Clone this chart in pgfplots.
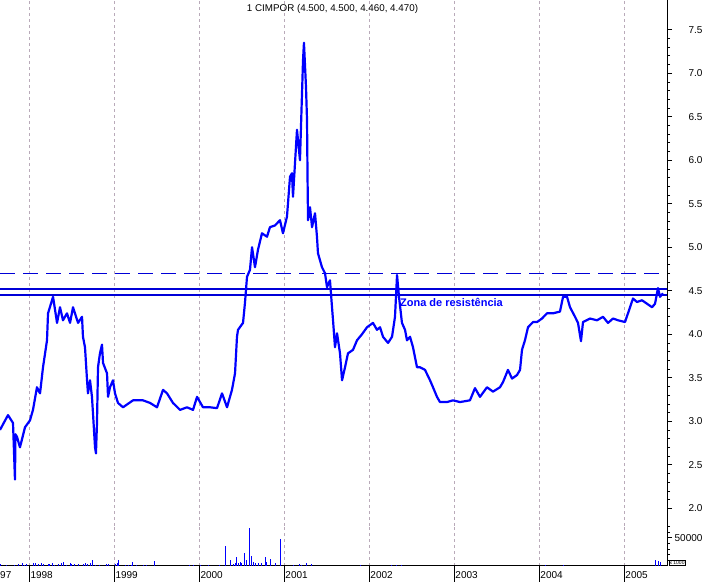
\documentclass[border=0pt]{standalone}
\usepackage{fontspec}
\setmainfont{Liberation Sans}
\usepackage{pgfplots}
\pgfplotsset{compat=1.18}
\definecolor{pblue}{RGB}{0,0,255}
\definecolor{lblue}{RGB}{0,0,215}
\definecolor{gridc}{RGB}{185,170,185}

\begin{document}
\begin{tikzpicture}[x=1pt,y=1pt]
\path[use as bounding box] (0pt,0pt) rectangle (707pt,-582pt);
\begin{axis}[
  at={(0pt,0pt)}, anchor=north west,
  scale only axis, width=667pt, height=525.6pt,
  xmin=1997.655, xmax=2005.502, ymin=1.8, ymax=7.841,
  axis y line*=right, axis x line*=bottom, x axis line style={draw=none},
  y axis line style={black, line width=0.7pt},
  xtick={1998,...,2005}, xticklabels={}, xtick style={draw=none},
  xmajorgrids, grid style={gridc, dashed, line width=0.6pt},
  ytick={2,2.5,...,7.5}, minor y tick num=4,
  tick align=outside, major tick length=5pt, minor tick length=3pt,
  ytick style={black, line width=0.6pt},
  yticklabel style={font=\fontsize{10}{12}\selectfont, anchor=east, xshift=34pt,
    /pgf/number format/fixed, /pgf/number format/fixed zerofill, /pgf/number format/precision=1},
  /pgf/number format/assume math mode=true,
  clip mode=individual,
]
% resistance lines
\addplot[lblue, line width=1.2pt, dash pattern=on 15pt off 8pt] coordinates {(1997.655,4.70) (2005.502,4.70)};
\addplot[lblue, line width=1.1pt] coordinates {(1997.655,4.52) (2005.502,4.52)};
\addplot[lblue, line width=1.1pt] coordinates {(1997.655,4.45) (2005.502,4.45)};
% price
\addplot[pblue, line width=2.2pt, line join=round] coordinates {
(1997.655,2.90) (1997.749,3.07) (1997.808,2.98) (1997.831,2.33) (1997.837,2.85)
(1997.855,2.82) (1997.890,2.70) (1997.949,2.93) (1998.008,3.01) (1998.043,3.13)
(1998.090,3.39) (1998.126,3.32) (1998.161,3.62) (1998.208,3.93) (1998.220,4.24)
(1998.267,4.39) (1998.279,4.43) (1998.326,4.13) (1998.361,4.31) (1998.396,4.16)
(1998.443,4.24) (1998.479,4.13) (1998.514,4.31) (1998.573,4.13) (1998.620,4.20)
(1998.631,3.97) (1998.655,3.85) (1998.679,3.47) (1998.690,3.32) (1998.714,3.47)
(1998.737,3.28) (1998.749,3.09) (1998.773,2.70) (1998.784,2.63) (1998.796,2.98)
(1998.808,3.62) (1998.831,3.78) (1998.855,3.88) (1998.867,3.67) (1998.914,3.55)
(1998.926,3.28) (1998.949,3.39) (1998.984,3.47) (1999.008,3.32) (1999.043,3.21)
(1999.102,3.16) (1999.220,3.24) (1999.337,3.24) (1999.420,3.21) (1999.502,3.16)
(1999.573,3.36) (1999.620,3.32) (1999.690,3.21) (1999.773,3.13) (1999.855,3.16)
(1999.926,3.13) (1999.973,3.28) (2000.043,3.16) (2000.126,3.16) (2000.208,3.15)
(2000.267,3.32) (2000.326,3.16) (2000.384,3.36) (2000.420,3.55) (2000.443,3.97)
(2000.455,4.05) (2000.514,4.13) (2000.537,4.36) (2000.561,4.66) (2000.596,4.74)
(2000.620,5.00) (2000.655,4.77) (2000.690,4.97) (2000.737,5.16) (2000.796,5.12)
(2000.831,5.23) (2000.890,5.25) (2000.949,5.31) (2000.984,5.16) (2001.031,5.35)
(2001.067,5.81) (2001.090,5.85) (2001.102,5.58) (2001.149,6.35) (2001.184,6.00)
(2001.220,7.15) (2001.231,7.35) (2001.255,6.84) (2001.267,6.46) (2001.273,5.81)
(2001.279,5.31) (2001.302,5.46) (2001.326,5.23) (2001.361,5.39) (2001.384,5.12)
(2001.396,4.93) (2001.443,4.77) (2001.479,4.70) (2001.502,4.54) (2001.537,4.62)
(2001.561,4.31) (2001.573,4.16) (2001.596,3.85) (2001.620,4.01) (2001.655,3.78)
(2001.679,3.47) (2001.714,3.62) (2001.749,3.78) (2001.808,3.82) (2001.855,3.93)
(2001.914,4.00) (2001.973,4.08) (2002.043,4.13) (2002.090,4.05) (2002.126,4.08)
(2002.161,3.97) (2002.220,3.90) (2002.267,3.97) (2002.302,4.20) (2002.326,4.68)
(2002.349,4.43) (2002.384,4.13) (2002.420,4.05) (2002.443,3.93) (2002.479,3.97)
(2002.514,3.85) (2002.561,3.62) (2002.596,3.62) (2002.655,3.59) (2002.714,3.47)
(2002.749,3.39) (2002.796,3.28) (2002.831,3.22) (2002.914,3.22) (2002.984,3.24)
(2003.067,3.22) (2003.184,3.24) (2003.243,3.38) (2003.302,3.28) (2003.384,3.39)
(2003.455,3.34) (2003.537,3.39) (2003.573,3.45) (2003.631,3.59) (2003.679,3.49)
(2003.737,3.53) (2003.773,3.59) (2003.796,3.82) (2003.831,3.93) (2003.867,4.08)
(2003.926,4.14) (2003.973,4.14) (2004.031,4.18) (2004.090,4.24) (2004.161,4.24)
(2004.243,4.26) (2004.279,4.43) (2004.326,4.43) (2004.361,4.31) (2004.420,4.20)
(2004.455,4.13) (2004.490,3.92) (2004.514,4.14) (2004.596,4.18) (2004.679,4.16)
(2004.749,4.20) (2004.808,4.13) (2004.867,4.18) (2004.926,4.16) (2005.008,4.14)
(2005.043,4.24) (2005.102,4.41) (2005.149,4.37) (2005.208,4.39) (2005.267,4.35)
(2005.326,4.31) (2005.361,4.35) (2005.396,4.53) (2005.420,4.43) (2005.455,4.47)
};
\node[font=\fontsize{9.8}{11}\selectfont, anchor=north, inner sep=0pt] at (rel axis cs:0.4985,1) [yshift=-4pt] {1 CIMPOR (4.500, 4.500, 4.460, 4.470)};
\node[font=\bfseries\fontsize{11}{13}\selectfont, text=pblue, anchor=west, inner sep=0pt] at (axis cs:2002.36,4.37) {Zona de resistência};
\end{axis}
\begin{axis}[
  at={(0pt,-525.6pt)}, anchor=north west,
  scale only axis, width=667pt, height=40.1pt,
  xmin=1997.655, xmax=2005.502, ymin=0, ymax=71600,
  axis y line*=right, axis x line*=bottom,
  axis line style={black, line width=0.7pt},
  xtick={1998,...,2005}, minor x tick num=11,
  xmajorgrids, grid style={gridc, dashed, line width=0.6pt},
  ytick={50000}, minor ytick={10000,20000,30000,40000,60000,70000},
  scaled y ticks=false,
  tick align=outside, major tick length=5pt, minor tick length=3pt,
  xtick style={black, line width=0.6pt, /pgfplots/major tick length=16pt},
  minor x tick style={/pgfplots/minor tick length=5pt},
  ytick style={black, line width=0.6pt},
  yticklabel style={font=\fontsize{10}{12}\selectfont, anchor=east, xshift=34pt,
    /pgf/number format/1000 sep={}},
  xticklabel style={font=\fontsize{10}{12}\selectfont, anchor=north west, inner sep=1pt,
    /pgf/number format/1000 sep={}},
  /pgf/number format/assume math mode=true,
  clip mode=individual,
]
\addplot[ycomb, pblue, line width=1pt] coordinates {
(1997.663,3000) (1997.734,1800) (1997.831,1800) (1997.867,2400) (1997.917,4200)
(1997.949,1800) (1997.969,2400) (1998.047,4200) (1998.075,5400) (1998.106,2400)
(1998.146,4800) (1998.164,3000) (1998.223,2400) (1998.243,3000) (1998.275,4200)
(1998.302,1800) (1998.341,3000) (1998.381,4800) (1998.400,6500) (1998.440,1800)
(1998.479,4200) (1998.499,3000) (1998.537,2400) (1998.576,3000) (1998.635,2400)
(1998.655,4800) (1998.682,3000) (1998.714,4200) (1998.741,10000) (1998.773,1800)
(1998.831,1800) (1998.910,2400) (1998.929,3000) (1999.008,2400) (1999.035,5000)
(1999.047,10000) (1999.126,1800) (1999.161,1800) (1999.204,1800) (1999.216,6500)
(1999.263,1800) (1999.341,1800) (1999.381,1800) (1999.470,8300) (1999.890,1800)
(1999.929,1800) (2000.008,1800) (2000.106,1800) (2000.243,1800) (2000.310,35000)
(2000.364,10000) (2000.400,3000) (2000.420,5000) (2000.440,16000) (2000.459,4200)
(2000.479,6000) (2000.499,4200) (2000.537,23000) (2000.557,10000) (2000.588,66700)
(2000.616,17000) (2000.635,7000) (2000.655,5000) (2000.694,4200) (2000.726,5000)
(2000.773,15000) (2000.793,6500) (2000.840,12000) (2000.894,5000) (2000.957,47600)
(2001.106,1800) (2001.184,3000) (2001.204,1800) (2001.263,4200) (2001.322,3000)
(2001.902,1800) (2002.263,1800) (2002.322,1800) (2002.381,1800) (2004.067,1800)
(2004.282,1800) (2005.369,11000) (2005.400,9000) (2005.428,7000)
};
\node[font=\fontsize{10}{12}\selectfont, anchor=north west, inner sep=0pt] at (rel axis cs:0,0) [xshift=0pt, yshift=-6pt] {97};
\node[draw, line width=0.5pt, font=\fontsize{5}{6}\selectfont, inner sep=0.8pt, anchor=south west] at (rel axis cs:1,0) [xshift=1.5pt, yshift=0.5pt] {x 1000};
\end{axis}
\end{tikzpicture}
\end{document}
